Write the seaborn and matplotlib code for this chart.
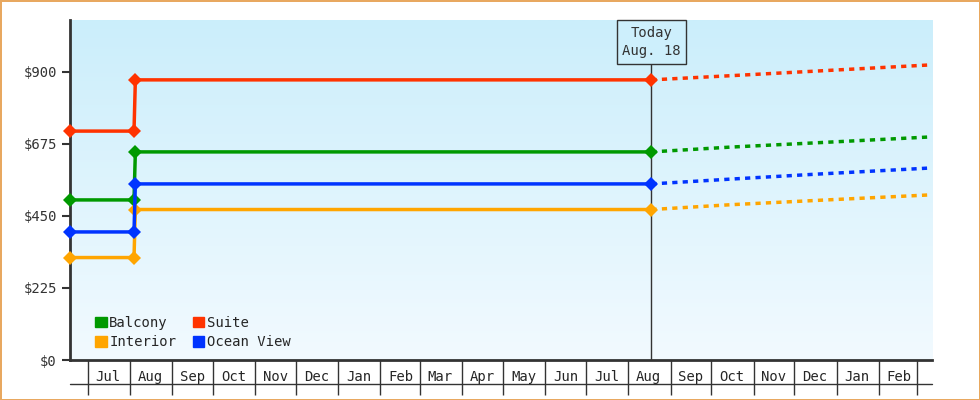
import numpy as np
import pandas as pd
import seaborn as sns
import matplotlib.pyplot as plt
import matplotlib.dates as mdates
from matplotlib.patches import Rectangle

sns.set_style('white')
plt.rcParams['font.family'] = ['DejaVu Sans Mono']

# observed fares
hist_dates = ['2023-06-18', '2023-08-04', '2023-08-05', '2024-08-18']
balcony = [500, 500, 650, 650]
suite = [715, 715, 875, 875]
interior = [320, 320, 470, 470]
ocean = [400, 400, 550, 550]

# projected fares
proj_dates = ['2024-08-18', '2024-10-15', '2024-12-15', '2025-03-12']
balcony_p = [650, 665, 678, 697]
suite_p = [875, 888, 902, 922]
interior_p = [470, 485, 498, 516]
ocean_p = [550, 565, 580, 600]

series = [('Balcony', balcony, balcony_p, '#009900'),
          ('Suite', suite, suite_p, '#ff3300'),
          ('Interior', interior, interior_p, '#ffa500'),
          ('Ocean View', ocean, ocean_p, '#0033ff')]

rows = []
for name, h, p, c in series:
    for d, v in zip(hist_dates, h):
        rows.append({'date': pd.Timestamp(d), 'price': v, 'type': name, 'kind': 'hist'})
    for d, v in zip(proj_dates, p):
        rows.append({'date': pd.Timestamp(d), 'price': v, 'type': name, 'kind': 'proj'})
df = pd.DataFrame(rows)
palette = {n: c for n, _, _, c in series}

fig = plt.figure(figsize=(9.8, 4), dpi=100)
fig.patch.set_edgecolor('#e8a860')
fig.patch.set_linewidth(2)
ax = fig.add_axes([70 / 980, 40 / 400, 862 / 980, 340 / 400])

# gradient background
grad = np.linspace(0, 1, 256).reshape(-1, 1)
cmap = sns.blend_palette(['#cbeefb', '#f2faff'], as_cmap=True)
ax.imshow(grad, aspect='auto', cmap=cmap, extent=[0, 1, 0, 1],
          transform=ax.transAxes, zorder=0)

hist = df[df.kind == 'hist']
proj = df[df.kind == 'proj']
sns.lineplot(data=hist, x='date', y='price', hue='type', palette=palette,
             lw=2.5, marker='D', markersize=7, markeredgewidth=0,
             ax=ax, legend=False, zorder=3, clip_on=False)
for name, _, _, c in series:
    sub = proj[proj.type == name]
    ax.plot(sub.date, sub.price, color=c, lw=2.5, ls=(0, (1.5, 1.5)), zorder=3)

x0, x1 = pd.Timestamp('2023-06-18'), pd.Timestamp('2025-03-12')
ax.set_xlim(x0, x1)
ax.set_ylim(0, 1062)
ax.set_yticks([0, 225, 450, 675, 900])
ax.set_yticklabels(['$0', '$225', '$450', '$675', '$900'])
ax.set_xlabel('')
ax.set_ylabel('')
ax.tick_params(axis='y', left=True, length=6, width=1.5, labelsize=10,
               colors='#333333', labelcolor='#333333')

# month table below the axis
ax.xaxis.set_major_locator(mdates.MonthLocator())
ax.xaxis.set_major_formatter(plt.NullFormatter())
ax.xaxis.set_minor_locator(mdates.MonthLocator(bymonthday=16))
ax.xaxis.set_minor_formatter(mdates.DateFormatter('%b'))
ax.tick_params(axis='x', which='major', bottom=True, length=25, width=1,
               direction='out', color='#333333')
ax.tick_params(axis='x', which='minor', bottom=True, length=0, labelsize=10, pad=7)
ax.plot([0, 1], [-24 / 340, -24 / 340], transform=ax.transAxes, color='#333333',
        lw=1, clip_on=False)

for s in ['top', 'right']:
    ax.spines[s].set_visible(False)
for s in ['left', 'bottom']:
    ax.spines[s].set_linewidth(2)
    ax.spines[s].set_color('#333333')

# today marker
today = pd.Timestamp('2024-08-18')
ax.axvline(today, color='#333333', lw=1, zorder=2)
ax.text(today, 994, 'Today\nAug. 18', ha='center', va='center', fontsize=10,
        linespacing=1.4, color='#333333',
        bbox=dict(boxstyle='square,pad=0.4', fc='#cdeffc', ec='#333333', lw=1), zorder=4)

# legend
order = ['Balcony', 'Interior', 'Suite', 'Ocean View']
handles = [Rectangle((0, 0), 1, 1, color=palette[n]) for n in order]
ax.legend(handles, order, ncol=2, loc='lower left',
          frameon=False, fontsize=10, handlelength=0.8, handleheight=0.8,
          handletextpad=0.2, columnspacing=1.2, labelspacing=0.4,
          bbox_to_anchor=(0.015, -0.005))

fig.savefig('out.png', dpi=100, edgecolor=fig.get_edgecolor())
